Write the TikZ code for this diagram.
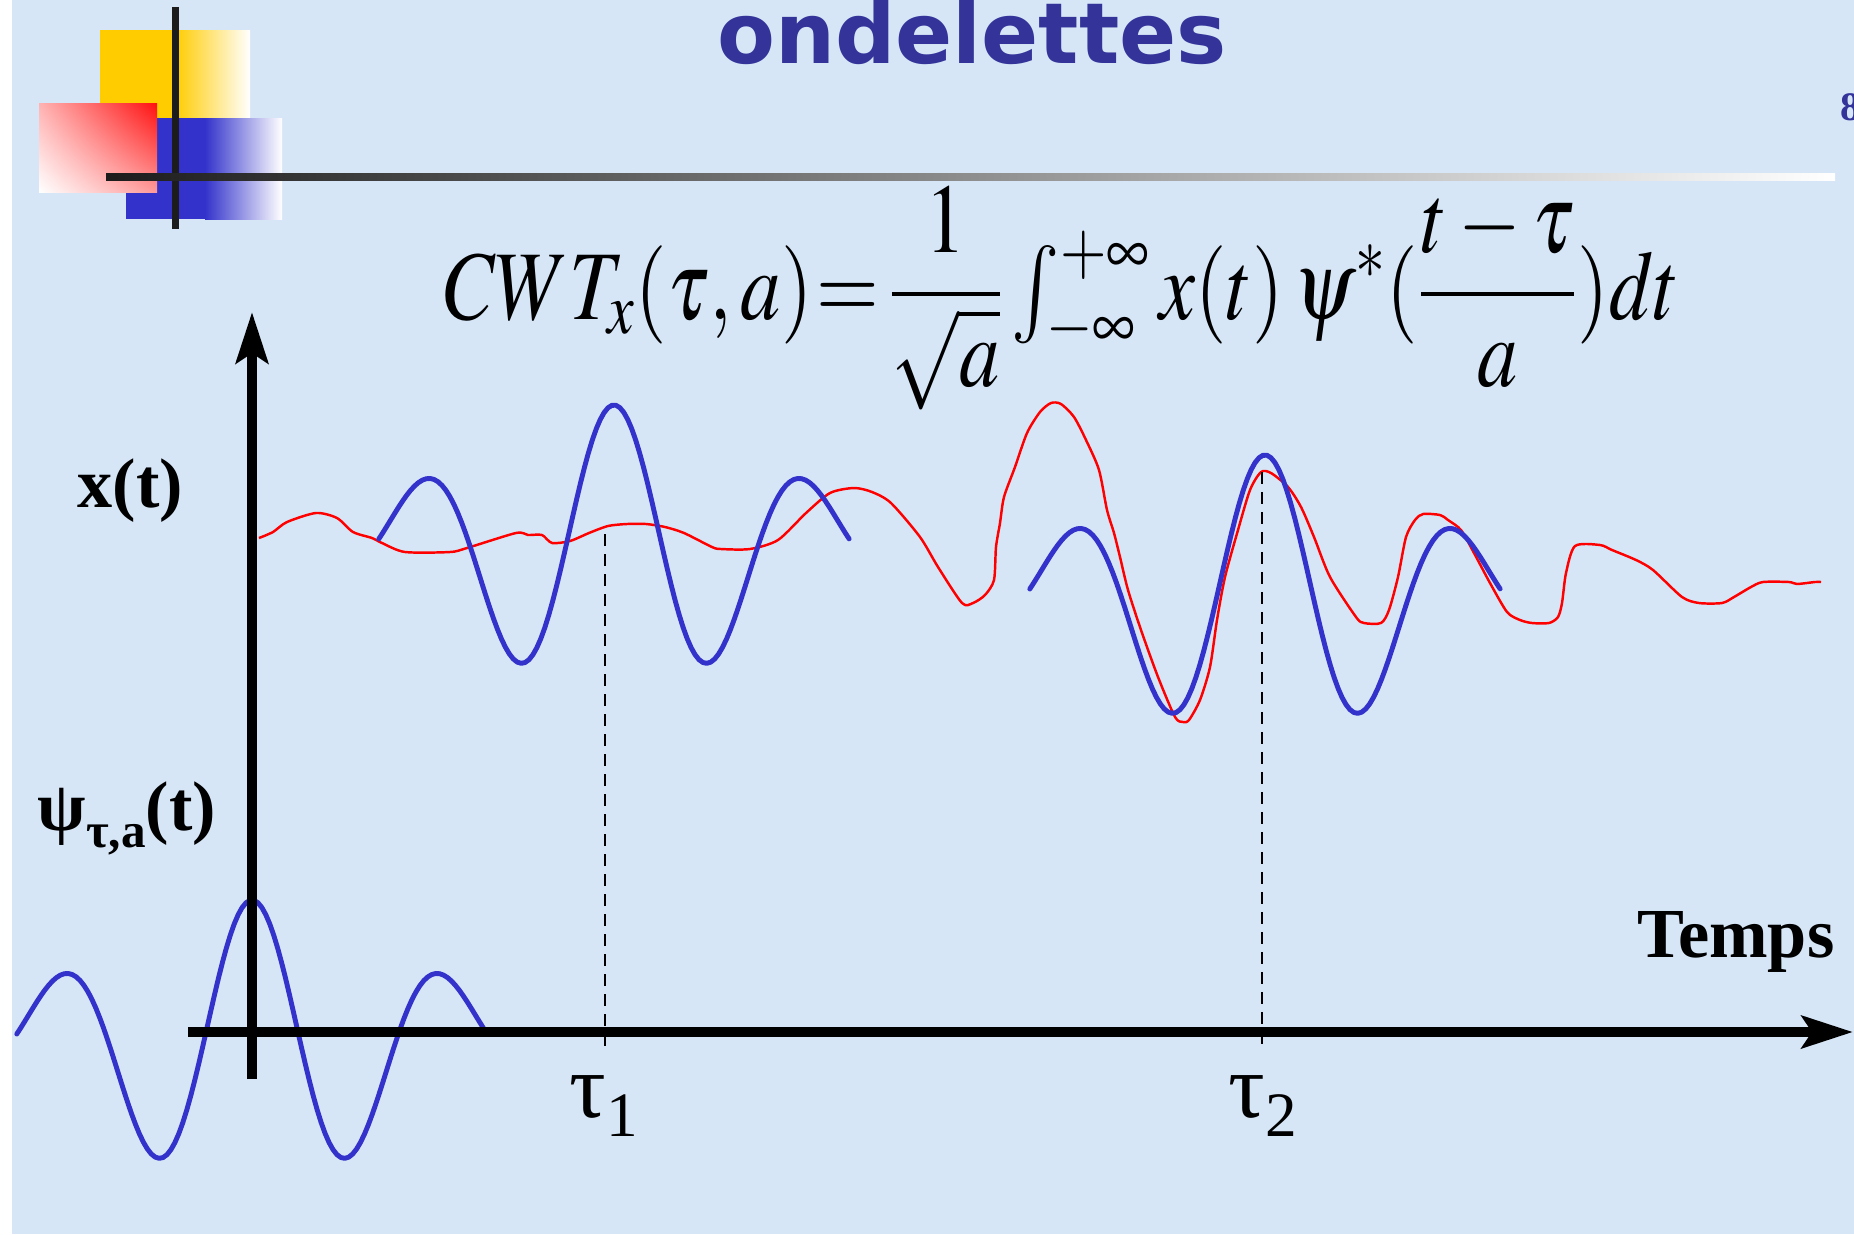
\documentclass[tikz,border=0pt]{standalone}
\usepackage{mathptmx}
\usepackage{fontspec}
\setmainfont{Liberation Serif}
\newfontfamily\titlefont{DejaVu Sans}
\usetikzlibrary{arrows.meta, positioning, shadings}

\definecolor{slidebg}{RGB}{214,230,246}
\definecolor{titleblue}{RGB}{51,51,153}
\definecolor{waveblue}{RGB}{51,51,204}
\definecolor{logoyellow}{RGB}{255,204,0}
\definecolor{logored}{RGB}{255,16,16}
\definecolor{bardark}{RGB}{28,28,28}

\newcommand{\lowsub}[2][-5pt]{\raisebox{#1}{#2}}

\begin{document}
\begin{tikzpicture}[x=0.1mm, y=-0.1mm,
    axis/.style={line width=2.85pt, -{Stealth[length=5.1mm, width=3.2mm, inset=1mm]}},
    wavelet/.style={waveblue, line width=1.4pt, line cap=round, line join=round},
    signal/.style={red, line width=0.7pt, line join=round},
    guide/.style={black, line width=0.6pt, dash pattern=on 1.2mm off 0.8mm},
    lbl/.style={font=\fontsize{20}{24}\selectfont\bfseries, inner sep=0pt},
    taulbl/.style={font=\fontsize{26}{30}\selectfont, inner sep=0pt, anchor=base}]

        \useasboundingbox (0,0) rectangle (1854,1234);
        \clip (0,0) rectangle (1854,1234);

        % Background
        \fill[slidebg] (0,0) rectangle (1854,1234);
        \fill[white] (0,0) rectangle (12,1234);

        % Logo
        \fill[logoyellow] (100,30) rectangle (175,118);
        \shade[left color=logoyellow, right color=white] (175,30) rectangle (250,118);
        \fill[waveblue] (126,118) rectangle (205,219);
        \shade[left color=waveblue, right color=white] (205,118) rectangle (282,219);
        \shade[upper right=logored, lower left=white, upper left=red!30, lower right=red!40] (39,103) rectangle (157,192);
        \fill[bardark] (172,7) rectangle (179,229);
        \shade[left color=bardark, right color=white] (106,173) rectangle (1835,180);

        % Title and page number
        \node[anchor=base, inner sep=0pt, text=titleblue, font=\titlefont\bfseries\fontsize{24}{28}\selectfont] (title) at (972,63) {ondelettes};
        \node[anchor=base west, inner sep=0pt, text=titleblue, font=\bfseries\fontsize{11.5}{14}\selectfont] (pagenum) at (1840,120) {8};

        % Formula
        \node[anchor=base, inner sep=0pt, font=\fontsize{28}{34}\selectfont] (cwt) at (1062,319)
            {\scalebox{0.82}[1]{$\displaystyle CWT_x(\tau,a)\mkern-3mu=\mkern-2mu\frac{1}{\sqrt{a}}\,{\textstyle\int_{-\infty}^{+\infty}}\, x(t)\,\psi^{*}(\frac{t-\tau}{a})dt$}};

        % Mother wavelet at the origin
        \draw[wavelet] plot[domain=-2.45:2.45, samples=120, variable=\u]
            ({252+96*\u}, {900+141-141*cos(180*\u)*exp(-0.191*\u*\u)});

        % Axes
        \coordinate (O) at (252,1032);
        \coordinate (ybot) at (252,1079);
        \coordinate (ytop) at (252,312);
        \coordinate (xleft) at (188,1032);
        \coordinate (xright) at (1853,1032);
        \draw[axis] (ybot) -- (ytop);
        \draw[axis] (xleft) -- (xright);

        % Signal x(t)
        \draw[signal] plot[smooth, tension=0.45] coordinates {
            (259,538) (273,532) (287,522) (316,513) (337,518) (353,532) (372,538) (382,543)
            (405,552) (450,552) (467,548) (516,533) (528,535) (542,535) (552,543) (570,541)
            (589,533) (608,526) (627,524) (646,524) (665,527) (684,533) (712,547) (721,549)
            (750,549) (778,540) (806,513) (830,493) (854,488) (872,492) (891,503) (920,537)
            (938,567) (962,603) (973,603) (985,595) (994,580) (996,547) (1000,523) (1004,497)
            (1015,467) (1027,433) (1040,412) (1051,403) (1061,404) (1074,417) (1086,440) (1099,470)
            (1107,510) (1114,533) (1120,557) (1128,590) (1141,630) (1158,677) (1175,717) (1183,722)
            (1189,720) (1200,700) (1210,667) (1217,620) (1225,577) (1238,530) (1250,490) (1261,472)
            (1271,473) (1288,487) (1301,507) (1314,537) (1330,577) (1356,617) (1364,623) (1381,623)
            (1389,610) (1398,577) (1406,537) (1415,520) (1423,514) (1440,515) (1448,520) (1461,530)
            (1474,553) (1490,583) (1507,612) (1520,620) (1532,623) (1549,623) (1558,617) (1562,603)
            (1566,573) (1575,546) (1600,545) (1612,550) (1636,560) (1653,570) (1682,597) (1699,603)
            (1722,603) (1734,597) (1751,587) (1763,582) (1789,582) (1797,584) (1815,582) (1821,582)};

        % Shifted wavelets
        \foreach \cx/\cy in {614/405, 1265/455}
            \draw[wavelet] plot[domain=-2.45:2.45, samples=120, variable=\u]
                ({\cx+96*\u}, {\cy+141-141*cos(180*\u)*exp(-0.191*\u*\u)});

        % Positions tau
        \coordinate (t1top) at (605,534);
        \coordinate (t1bot) at (605,1050);
        \coordinate (t2top) at (1262,472);
        \coordinate (t2bot) at (1262,1050);
        \draw[guide] (t1top) -- (t1bot);
        \draw[guide] (t2top) -- (t2bot);
        \node[taulbl] (tau1) at (604,1117) {τ\lowsub[-5.5pt]{\fontsize{18}{18}\selectfont 1}};
        \node[taulbl] (tau2) at (1263,1117) {τ\lowsub[-5.5pt]{\fontsize{18}{18}\selectfont 2}};

        % Labels
        \node[lbl, anchor=base west] (xlab) at (77,507) {x(t)};
        \node[lbl, anchor=base west] (psilab) at (37,830) {ψ\lowsub{\fontsize{14}{14}\selectfont τ,a}(t)};
        \node[lbl, anchor=base east] (temps) at (1835,957) {Temps};

    \end{tikzpicture}
\end{document}
